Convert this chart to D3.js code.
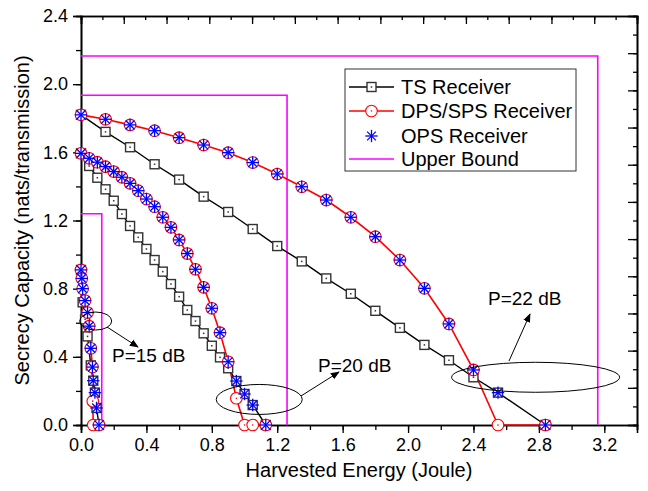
<!DOCTYPE html>
<html>
<head>
<meta charset="utf-8">
<script src="https://cdn.jsdelivr.net/npm/d3@7"></script>
<style>
  body { margin: 0; background: #fff; }
  text { font-family: "Liberation Sans", Arial, sans-serif; fill: #000; }
</style>
</head>
<body>
<script>
// ---- data ----
// P = 22 dB
var ts22X  = [0, 0.15, 0.3, 0.45, 0.6, 0.75, 0.9, 1.05, 1.2, 1.35, 1.5, 1.65, 1.8, 1.95, 2.1, 2.25, 2.4, 2.55, 2.84];
var ts22Y  = [1.82, 1.72, 1.63, 1.53, 1.44, 1.34, 1.25, 1.15, 1.05, 0.96, 0.86, 0.77, 0.67, 0.57, 0.47, 0.38, 0.28, 0.19, 0];
var dps22X = [0, 0.15, 0.3, 0.45, 0.6, 0.75, 0.9, 1.05, 1.2, 1.35, 1.5, 1.65, 1.8, 1.95, 2.1, 2.25, 2.4, 2.55, 2.84];
var dps22Y = [1.82, 1.794, 1.761, 1.727, 1.686, 1.643, 1.598, 1.54, 1.473, 1.398, 1.32, 1.219, 1.105, 0.968, 0.802, 0.593, 0.323, 0, 0];
var ops22X = [0, 0.15, 0.3, 0.45, 0.6, 0.75, 0.9, 1.05, 1.2, 1.35, 1.5, 1.65, 1.8, 1.95, 2.1, 2.25, 2.4, 2.55, 2.84];
var ops22Y = [1.82, 1.794, 1.761, 1.727, 1.686, 1.643, 1.598, 1.54, 1.473, 1.398, 1.32, 1.219, 1.105, 0.968, 0.802, 0.593, 0.323, 0.19, 0];

// P = 20 dB
var ts20X  = [0, 0.05, 0.1, 0.15, 0.2, 0.25, 0.3, 0.35, 0.4, 0.45, 0.5, 0.55, 0.6, 0.65, 0.7, 0.75, 0.8, 0.85, 0.9, 0.95, 1.0, 1.05, 1.13];
var ts20Y  = [1.594, 1.52, 1.451, 1.383, 1.316, 1.238, 1.168, 1.101, 1.033, 0.968, 0.9, 0.827, 0.753, 0.675, 0.61, 0.538, 0.465, 0.397, 0.333, 0.258, 0.182, 0.117, 0];
var dps20X = [0, 0.05, 0.1, 0.15, 0.2, 0.25, 0.3, 0.35, 0.4, 0.45, 0.5, 0.55, 0.6, 0.65, 0.7, 0.75, 0.8, 0.85, 0.9, 0.95, 1.0, 1.05, 1.13];
var dps20Y = [1.594, 1.565, 1.542, 1.516, 1.487, 1.454, 1.418, 1.375, 1.326, 1.281, 1.219, 1.16, 1.086, 1.006, 0.914, 0.808, 0.685, 0.542, 0.371, 0.157, 0, 0, 0];
var ops20X = [0, 0.05, 0.1, 0.15, 0.2, 0.25, 0.3, 0.35, 0.4, 0.45, 0.5, 0.55, 0.6, 0.65, 0.7, 0.75, 0.8, 0.85, 0.9, 0.95, 1.0, 1.05, 1.13];
var ops20Y = [1.594, 1.565, 1.542, 1.516, 1.487, 1.454, 1.418, 1.375, 1.326, 1.281, 1.219, 1.16, 1.086, 1.006, 0.914, 0.808, 0.685, 0.542, 0.371, 0.258, 0.182, 0.117, 0];

// P = 15 dB
var ts15X  = [0, 0.01, 0.025, 0.04, 0.06, 0.075, 0.085, 0.095, 0.11];
var ts15Y  = [0.91, 0.72, 0.62, 0.52, 0.35, 0.26, 0.19, 0.10, 0];
var dps15X = [0, 0.005, 0.01, 0.025, 0.04, 0.05, 0.06, 0.07, 0.072, 0.075, 0.11];
var dps15Y = [0.91, 0.86, 0.80, 0.73, 0.66, 0.58, 0.45, 0.34, 0.14, 0, 0];
var ops15X = [0, 0.005, 0.01, 0.025, 0.04, 0.05, 0.06, 0.07, 0.075, 0.085, 0.095, 0.11];
var ops15Y = [0.91, 0.86, 0.80, 0.73, 0.66, 0.58, 0.45, 0.34, 0.26, 0.19, 0.10, 0];

// upper bounds (corner of each box)
var ubX = [0.127, 1.26, 3.16];
var ubY = [1.24, 1.935, 2.165];

var xTicks = [0, 0.4, 0.8, 1.2, 1.6, 2.0, 2.4, 2.8, 3.2];
var yTicks = [0, 0.4, 0.8, 1.2, 1.6, 2.0, 2.4];
var legendNames = ["TS Receiver", "DPS/SPS Receiver", "OPS Receiver", "Upper Bound"];
var labels = [
  {text: "P=15 dB", cx: 0.09, cy: 0.61, rx: 16, ry: 9, from: [107, 327], to: [138, 347], tx: 112, ty: 362},
  {text: "P=20 dB", cx: 1.09, cy: 0.15, rx: 43, ry: 15, from: [301, 396], to: [339, 372], tx: 318, ty: 372},
  {text: "P=22 dB", cx: 2.78, cy: 0.28, rx: 84, ry: 15, from: [509, 361], to: [530, 314], tx: 488, ty: 305}
];

function zip(xs, ys) {
  return xs.map(function(x, i) { return {x: x, y: ys[i]}; });
}

var W = 648, H = 491;
var mLeft = 81, mRight = 637, mTop = 16, mBottom = 425;

var svg = d3.select("body").append("svg")
  .attr("width", W)
  .attr("height", H);

var x = d3.scaleLinear().domain([0, 3.4]).range([mLeft, mRight]);
var y = d3.scaleLinear().domain([0, 2.4]).range([mBottom, mTop]);

// axes
svg.append("g")
  .attr("transform", "translate(0," + mBottom + ")")
  .call(d3.axisBottom(x).tickValues(d3.range(0, 3.41, 0.2)).tickSize(5).tickFormat(""));
svg.append("g")
  .attr("transform", "translate(0," + mBottom + ")")
  .call(d3.axisBottom(x).tickValues(xTicks).tickSize(8).tickPadding(5).tickFormat(d3.format(".1f")))
  .selectAll("text").style("font-size", "18px");

svg.append("g")
  .attr("transform", "translate(" + mLeft + ",0)")
  .call(d3.axisLeft(y).tickValues(d3.range(0, 2.41, 0.2)).tickSize(5).tickFormat(""));
svg.append("g")
  .attr("transform", "translate(" + mLeft + ",0)")
  .call(d3.axisLeft(y).tickValues(yTicks).tickSize(8).tickPadding(5).tickFormat(d3.format(".1f")))
  .selectAll("text").style("font-size", "18px");

// mirror axes with their own divisions, ticks pointing in
var xTop = d3.scaleLinear().domain([0, 26]).range([mLeft, mRight]);
var yRight = d3.scaleLinear().domain([0, 22]).range([mBottom, mTop]);
svg.append("g")
  .attr("transform", "translate(0," + mTop + ")")
  .call(d3.axisTop(xTop).ticks(26).tickSize(-4).tickFormat(""));
svg.append("g")
  .attr("transform", "translate(0," + mTop + ")")
  .call(d3.axisTop(xTop).tickValues(d3.range(0, 27, 2)).tickSize(-8).tickFormat(""));
svg.append("g")
  .attr("transform", "translate(" + mRight + ",0)")
  .call(d3.axisRight(yRight).ticks(22).tickSize(-4).tickFormat(""));
svg.append("g")
  .attr("transform", "translate(" + mRight + ",0)")
  .call(d3.axisRight(yRight).tickValues(d3.range(0, 23, 2)).tickSize(-9).tickFormat(""));

svg.selectAll(".domain").attr("stroke", "#000").attr("stroke-width", 1.6);
svg.selectAll(".tick line").attr("stroke", "#000").attr("stroke-width", 1.3);

// axis titles
svg.append("text")
  .attr("x", (mLeft + mRight) / 2)
  .attr("y", 477)
  .attr("text-anchor", "middle")
  .style("font-size", "20px")
  .text("Harvested Energy (Joule)");
svg.append("text")
  .attr("transform", "translate(29," + (mTop + mBottom) / 2 + ") rotate(-90)")
  .attr("text-anchor", "middle")
  .style("font-size", "20px")
  .text("Secrecy Capacity (nats/transmission)");

var line = d3.line()
  .x(function(d) { return x(d.x); })
  .y(function(d) { return y(d.y); });

// upper bounds
var ub = svg.append("g");
ubX.forEach(function(ux, i) {
  ub.append("path")
    .attr("d", line([{x: 0, y: ubY[i]}, {x: ux, y: ubY[i]}, {x: ux, y: 0}]))
    .attr("fill", "none")
    .attr("stroke", "#ff00ff")
    .attr("stroke-width", 1.6);
});

var tsSets = [zip(ts15X, ts15Y), zip(ts20X, ts20Y), zip(ts22X, ts22Y)];
var dpsSets = [zip(dps15X, dps15Y), zip(dps20X, dps20Y), zip(dps22X, dps22Y)];
var opsSets = [zip(ops15X, ops15Y), zip(ops20X, ops20Y), zip(ops22X, ops22Y)];

tsSets.forEach(function(s) {
  svg.append("path").attr("d", line(s))
    .attr("fill", "none").attr("stroke", "#000").attr("stroke-width", 1.4);
});
dpsSets.forEach(function(s) {
  svg.append("path").attr("d", line(s))
    .attr("fill", "none").attr("stroke", "#ff0000").attr("stroke-width", 1.6);
});

function drawSquare(g, cx, cy) {
  g.append("rect").attr("x", cx - 4.5).attr("y", cy - 4.5).attr("width", 9).attr("height", 9)
    .attr("fill", "#fff").attr("stroke", "#333").attr("stroke-width", 1.4);
  g.append("rect").attr("x", cx - 0.75).attr("y", cy - 0.75).attr("width", 1.5).attr("height", 1.5)
    .attr("fill", "#333");
}
function drawCircle(g, cx, cy) {
  g.append("circle").attr("cx", cx).attr("cy", cy).attr("r", 5.8)
    .attr("fill", "#fff").attr("stroke", "#ff0000").attr("stroke-width", 1.1);
  g.append("circle").attr("cx", cx).attr("cy", cy).attr("r", 0.8).attr("fill", "#ff0000");
}
function drawStar(g, cx, cy) {
  [0, 45, 90, 135].forEach(function(a) {
    var r = 6.2, t = a * Math.PI / 180;
    g.append("line")
      .attr("x1", cx - r * Math.cos(t)).attr("y1", cy - r * Math.sin(t))
      .attr("x2", cx + r * Math.cos(t)).attr("y2", cy + r * Math.sin(t))
      .attr("stroke", "#0000ff").attr("stroke-width", 1.3);
  });
}

var marks = svg.append("g");
tsSets.forEach(function(s) {
  s.forEach(function(d) { drawSquare(marks, x(d.x), y(d.y)); });
});
dpsSets.forEach(function(s) {
  s.forEach(function(d) { drawCircle(marks, x(d.x), y(d.y)); });
});
opsSets.forEach(function(s) {
  s.forEach(function(d) { drawStar(marks, x(d.x), y(d.y)); });
});

// annotations
svg.append("defs").append("marker")
  .attr("id", "arr")
  .attr("viewBox", "0 0 10 10")
  .attr("refX", 9).attr("refY", 5)
  .attr("markerWidth", 9).attr("markerHeight", 9)
  .attr("markerUnits", "userSpaceOnUse")
  .attr("orient", "auto")
  .append("path").attr("d", "M0,1 L10,5 L0,9 Z").attr("fill", "#000");

labels.forEach(function(l) {
  svg.append("ellipse")
    .attr("cx", x(l.cx)).attr("cy", y(l.cy))
    .attr("rx", l.rx).attr("ry", l.ry)
    .attr("fill", "none").attr("stroke", "#000").attr("stroke-width", 1);
  svg.append("line")
    .attr("x1", l.from[0]).attr("y1", l.from[1])
    .attr("x2", l.to[0]).attr("y2", l.to[1])
    .attr("stroke", "#000").attr("stroke-width", 1)
    .attr("marker-end", "url(#arr)");
  svg.append("text")
    .attr("x", l.tx).attr("y", l.ty)
    .style("font-size", "19px")
    .text(l.text);
});

// legend
var lg = svg.append("g");
lg.append("rect")
  .attr("x", 345).attr("y", 69).attr("width", 231).attr("height", 102)
  .attr("fill", "#fff").attr("stroke", "#333").attr("stroke-width", 1);
var rowY = [87, 111, 136, 159];
legendNames.forEach(function(name, i) {
  var yy = rowY[i];
  if (i == 0 || i == 1 || i == 3) {
    lg.append("line").attr("x1", 349).attr("x2", 394).attr("y1", yy).attr("y2", yy)
      .attr("stroke", ["#000", "#ff0000", null, "#ff00ff"][i])
      .attr("stroke-width", i == 0 ? 1.4 : 1.6);
  }
  if (i == 0) drawSquare(lg, 371.5, yy);
  if (i == 1) drawCircle(lg, 371.5, yy);
  if (i == 2) drawStar(lg, 371.5, yy);
  lg.append("text")
    .attr("x", 401).attr("y", yy)
    .attr("dy", "0.36em")
    .style("font-size", "20px")
    .text(name);
});
</script>
</body>
</html>
